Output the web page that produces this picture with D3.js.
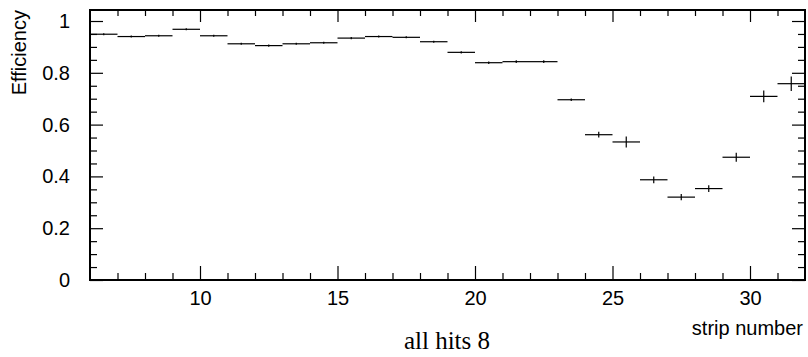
<!DOCTYPE html>
<html><head><meta charset="utf-8">
<script src="https://cdn.jsdelivr.net/npm/d3@7"></script>
<style>
html,body{margin:0;padding:0;background:#fff;}
svg{display:block;}
</style></head>
<body>
<svg id="c" width="808" height="357"></svg>
<script>
// Data: bin lower edges (strip number), efficiency, error
const binLow = [6,7,8,9,10,11,12,13,14,15,16,17,18,19,20,21,22,23,24,25,26,27,28,29,30,31];
const efficiency = [0.949,0.940,0.943,0.968,0.943,0.912,0.905,0.912,0.916,0.934,0.940,0.937,0.920,0.879,0.839,0.843,0.843,0.696,0.561,0.533,0.387,0.320,0.353,0.474,0.709,0.758];
const errors = [0.004,0.004,0.004,0.004,0.004,0.004,0.004,0.004,0.004,0.004,0.004,0.004,0.004,0.004,0.005,0.005,0.005,0.005,0.011,0.021,0.013,0.012,0.013,0.017,0.023,0.028];
const xMajorTicks = [10,15,20,25,30];
const xMinorTicks = [7,8,9,11,12,13,14,16,17,18,19,21,22,23,24,26,27,28,29,31];
const yMajorTicks = [0,0.2,0.4,0.6,0.8,1];
const yTickLabels = ["0","0.2","0.4","0.6","0.8","1"];
const yMinorTicks = [0.05,0.1,0.15,0.25,0.3,0.35,0.45,0.5,0.55,0.65,0.7,0.75,0.85,0.9,0.95];
const xTitle = "strip number";
const yTitle = "Efficiency";
const title = "all hits 8";

const L = 90, R = 805, T = 10, B = 280;
const x = d3.scaleLinear().domain([6,32]).range([L,R]);
const y = d3.scaleLinear().domain([0,1.0425]).range([B,T]);
const svg = d3.select("#c");
const sans = "'Liberation Sans', Arial, Helvetica, sans-serif";

// axes ticks via d3 axes
svg.append("g").attr("transform",`translate(0,${B})`)
  .call(d3.axisBottom(x).tickValues(xMajorTicks).tickSizeInner(-14).tickSizeOuter(0).tickPadding(11).tickFormat(d3.format("d")));
svg.append("g").attr("transform",`translate(0,${B})`)
  .call(d3.axisBottom(x).tickValues(xMinorTicks).tickSizeInner(-7).tickSizeOuter(0).tickFormat(""));
svg.append("g").attr("transform",`translate(0,${T})`)
  .call(d3.axisTop(x).tickValues(xMajorTicks).tickSizeInner(-12).tickSizeOuter(0).tickFormat(""));
svg.append("g").attr("transform",`translate(0,${T})`)
  .call(d3.axisTop(x).tickValues(xMinorTicks).tickSizeInner(-6).tickSizeOuter(0).tickFormat(""));
svg.append("g").attr("transform",`translate(${L},0)`)
  .call(d3.axisLeft(y).tickValues(yMajorTicks).tickSizeInner(-13).tickSizeOuter(0).tickPadding(20).tickFormat((d,i)=>yTickLabels[i]));
svg.append("g").attr("transform",`translate(${L},0)`)
  .call(d3.axisLeft(y).tickValues(yMinorTicks).tickSizeInner(-7).tickSizeOuter(0).tickFormat(""));
svg.append("g").attr("transform",`translate(${R},0)`)
  .call(d3.axisRight(y).tickValues(yMajorTicks).tickSizeInner(-13).tickSizeOuter(0).tickFormat(""));
svg.append("g").attr("transform",`translate(${R},0)`)
  .call(d3.axisRight(y).tickValues(yMinorTicks).tickSizeInner(-7).tickSizeOuter(0).tickFormat(""));

svg.selectAll(".domain").remove();
svg.selectAll(".tick line").attr("stroke","#000").attr("stroke-width",1.2);
svg.selectAll(".tick text").attr("font-family",sans).attr("font-size",20).attr("fill","#000");

// frame
svg.append("rect").attr("x",L).attr("y",T).attr("width",R-L).attr("height",B-T)
  .attr("fill","none").attr("stroke","#000").attr("stroke-width",2);

// data: horizontal bin-width bars and vertical error bars
const g = svg.append("g").attr("stroke","#000").attr("stroke-width",1.2);
binLow.forEach((lo,i)=>{
  const v = efficiency[i], e = errors[i];
  g.append("line").attr("x1",x(lo)).attr("x2",x(lo+1)).attr("y1",y(v)).attr("y2",y(v));
  g.append("line").attr("x1",x(lo+0.5)).attr("x2",x(lo+0.5)).attr("y1",y(v-e)).attr("y2",y(v+e));
});

// titles
svg.append("text").attr("x",803).attr("y",335).attr("text-anchor","end")
  .attr("font-family",sans).attr("font-size",20).text(xTitle);
svg.append("text").attr("transform","translate(26,10) rotate(-90)").attr("text-anchor","end")
  .attr("font-family",sans).attr("font-size",20).text(yTitle);
svg.append("text").attr("x",447).attr("y",349).attr("text-anchor","middle")
  .attr("font-family","'Liberation Serif', 'Times New Roman', serif").attr("font-size",25).text(title);
</script>
</body></html>
